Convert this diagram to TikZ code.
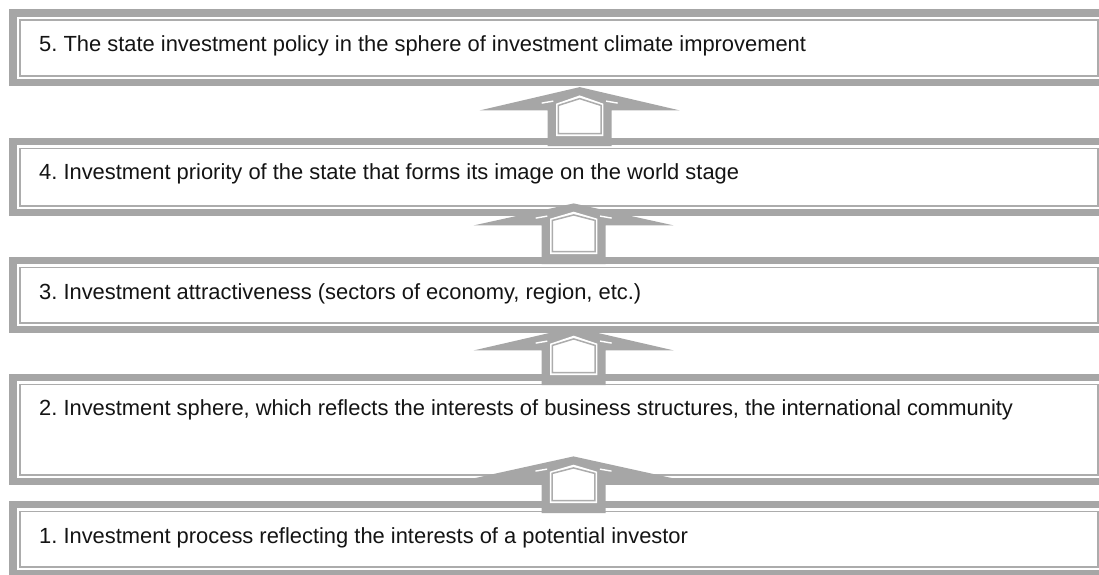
\documentclass[tikz,border=0pt]{standalone}
\usepackage{fontspec}
\setmainfont{Liberation Sans}
\frenchspacing
\usetikzlibrary{calc}
\definecolor{bandgray}{RGB}{166,166,166}
\definecolor{linegray}{RGB}{172,172,172}
\definecolor{txtcol}{RGB}{20,20,20}
\tikzset{
  box/.style={draw=none, fill=white, inner sep=0pt, anchor=north west, minimum width=1098.7pt},
  band/.style={draw=bandgray, line width=7.4pt},
  innerline/.style={draw=linegray, line width=1.6pt},
  txt/.style={anchor=base west, inner sep=0pt, text=txtcol, font=\fontsize{21.9}{24}\selectfont},
}
\newcommand\drawmyframe[1]{%
  \draw[band] ([shift={(3.7,3.7)}]#1.north west) rectangle ([shift={(-3.7,-3.7)}]#1.south east);
  \draw[innerline] ([shift={(10.5,10.5)}]#1.north west) rectangle ([shift={(-10.5,-10.5)}]#1.south east);
}
% #1 lower node, #2 upper node, #3 centre x, #4 apex offset below upper.south,
% #5 head height, #6 shaft bottom offset below lower.north
\newcommand\housearrow[6]{%
  \coordinate (hc) at (#3,0);
  \coordinate (hapex) at ($(hc |- #2.south)+(0,#4)$);
  \coordinate (hbase) at ($(hapex)+(0,#5)$);
  \coordinate (hbot) at ($(hc |- #1.north)+(0,#6)$);
  \fill[bandgray] let \p1=(hapex), \p2=(hbase), \p3=(hbot) in
    (\x1-32pt,\y3) -- (\x1-32pt,\y2) -- (\x1-100pt,\y2) -- (\x1,\y1) --
    (\x1+100pt,\y2) -- (\x1+32pt,\y2) -- (\x1+32pt,\y3) -- cycle;
  \fill[white] let \p1=(hapex), \p2=(hbase), \p3=(hbot) in
    (\x1-23.7pt,\y3+10pt) -- (\x1-23.7pt,\y2+6.7pt) -- (\x1,\y1-8.3pt) --
    (\x1+23.7pt,\y2+6.7pt) -- (\x1+23.7pt,\y3+10pt) -- cycle;
  \draw[linegray, line width=1.5pt] let \p1=(hapex), \p2=(hbase), \p3=(hbot) in
    (\x1-21.3pt,\y3+12.5pt) -- (\x1-21.3pt,\y2+5pt) -- (\x1,\y1-11.5pt) --
    (\x1+21.3pt,\y2+5pt) -- (\x1+21.3pt,\y3+12.5pt) -- cycle;
  \draw[white, line width=1.4pt] let \p1=(hapex), \p2=(hbase) in
    (\x1-38pt,\y2+7.3pt) -- (\x1-26.4pt,\y2+9.3pt)
    (\x1+38pt,\y2+7.3pt) -- (\x1+26.4pt,\y2+9.3pt);
}
\begin{document}
\begin{tikzpicture}[x=1pt, y=-1pt]
\useasboundingbox (0,0) rectangle (1099,574);
\clip (0,0) rectangle (1099,574);

\node[box, minimum height=76.7pt] (b5) at (9.3,9.3) {};
\node[box, minimum height=78pt] (b4) at (9.3,138) {};
\node[box, minimum height=76pt] (b3) at (9.3,257) {};
\node[box, minimum height=111pt] (b2) at (9.3,374) {};
\node[box, minimum height=76pt] (b1) at (9.3,501) {};

\drawmyframe{b5}
\drawmyframe{b4}
\drawmyframe{b3}
\drawmyframe{b2}
\drawmyframe{b1}

\housearrow{b4}{b5}{579.7}{0.7}{23.3}{8}
\housearrow{b3}{b4}{573.7}{-13}{22}{7}
\housearrow{b2}{b3}{573.7}{-6}{23}{11}
\housearrow{b1}{b2}{573.5}{-29}{22}{12}

\node[txt] (t5) at (39,51) {5. The state investment policy in the sphere of investment climate improvement};
\node[txt] (t4) at (39,179) {4. Investment priority of the state that forms its image on the world stage};
\node[txt] (t3) at (39,299) {3. Investment attractiveness (sectors of economy, region, etc.)};
\node[txt] (t2) at (39,415) {2. Investment sphere, which reflects the interests of business structures, the international community};
\node[txt] (t1) at (39,543) {1. Investment process reflecting the interests of a potential investor};
\end{tikzpicture}
\end{document}
